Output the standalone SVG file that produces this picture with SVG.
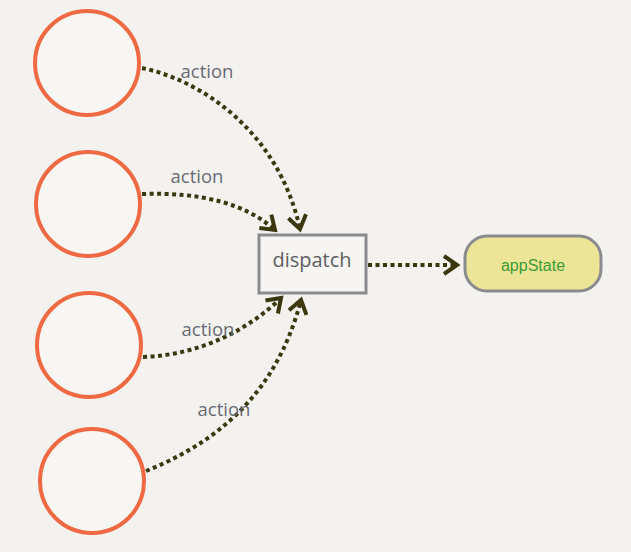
<svg xmlns="http://www.w3.org/2000/svg" width="631" height="552" viewBox="0 0 631 552">
<defs>
<style>
.src{fill:#f7f6f3;stroke:#ef6a43;stroke-width:4}
.edge{fill:none;stroke:#3b3810;stroke-width:4;stroke-dasharray:4 3.5}
.lbl{font-family:"Open Sans","Liberation Sans",sans-serif;font-size:18.5px;fill:#676a74;text-anchor:middle}
</style>
<marker id="arr" markerUnits="userSpaceOnUse" markerWidth="22" markerHeight="22" viewBox="-15 -11 17 22" refX="0" refY="0" orient="auto">
<path d="M-13,-9 L0,0 L-13,9" fill="none" stroke="#3b3810" stroke-width="4" stroke-linejoin="miter"/>
</marker>
</defs>
<rect width="631" height="552" fill="#f4f2ee"/>
<g id="src1"><circle class="src" cx="87" cy="63" r="52"/></g>
<g id="src2"><circle class="src" cx="88" cy="204" r="52"/></g>
<g id="src3"><circle class="src" cx="89" cy="345" r="52"/></g>
<g id="src4"><circle class="src" cx="92" cy="481" r="52"/></g>
<g id="dispatch">
<rect x="259" y="235" width="107" height="58" fill="#f6f5f2" stroke="#8a8b8e" stroke-width="3"/>
<text x="312" y="267" font-family="'Open Sans','Liberation Sans',sans-serif" font-size="20" fill="#5d5e62" text-anchor="middle">dispatch</text>
</g>
<g id="appState">
<rect x="465" y="236" width="136" height="55" rx="22" fill="#ece597" stroke="#8a8b8e" stroke-width="3"/>
<text x="533" y="271" font-family="'Liberation Sans',Arial,sans-serif" font-size="16" fill="#3d9a35" text-anchor="middle">appState</text>
</g>
<g id="connectors">
<path class="edge" d="M142,68 C200,80 278,130 300,229" marker-end="url(#arr)"/>
<path class="edge" d="M142,194 C200,192 245,203 275,230" marker-end="url(#arr)"/>
<path class="edge" d="M143,357 C200,355 248,330 281,298" marker-end="url(#arr)"/>
<path class="edge" d="M146,471 C210,445 275,400 301,300" marker-end="url(#arr)"/>
<path class="edge" d="M368,265 L457,265" marker-end="url(#arr)"/>
<text class="lbl" x="207" y="78">action</text>
<text class="lbl" x="197" y="183">action</text>
<text class="lbl" x="208" y="336">action</text>
<text class="lbl" x="224" y="416">action</text>
</g>
</svg>
